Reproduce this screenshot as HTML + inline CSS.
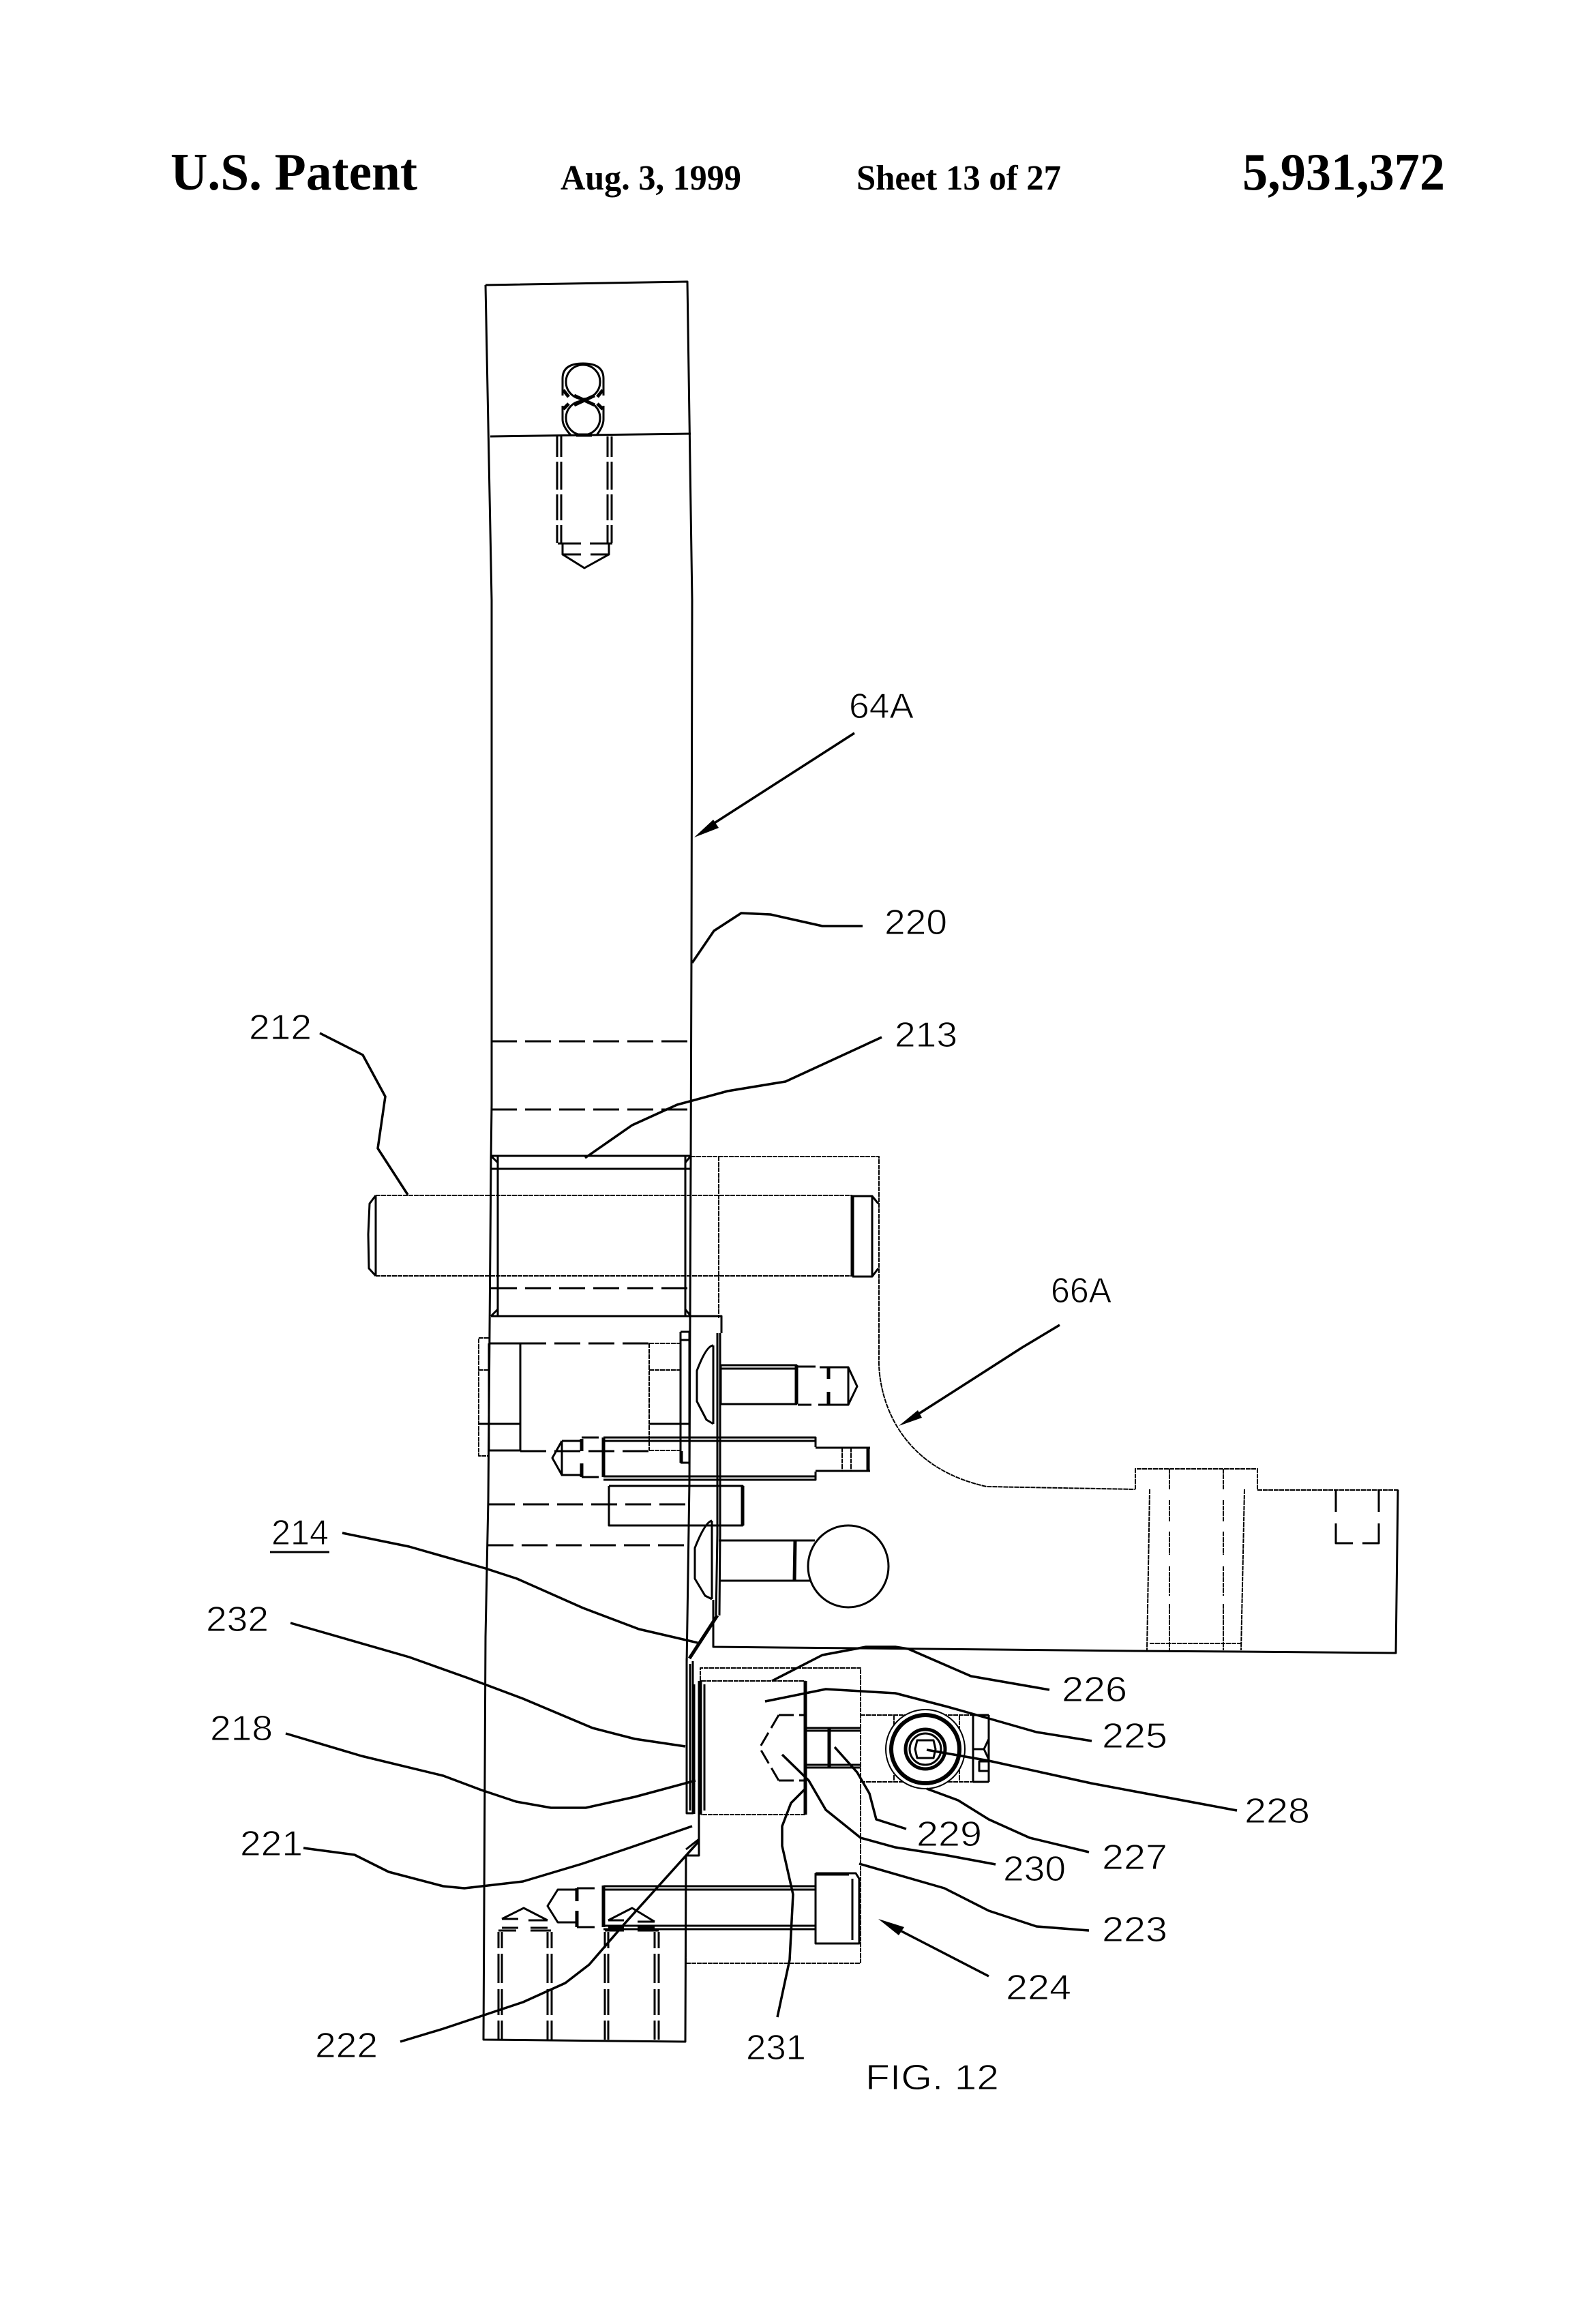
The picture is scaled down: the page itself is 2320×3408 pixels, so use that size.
<!DOCTYPE html>
<html>
<head>
<meta charset="utf-8">
<style>
html,body{margin:0;padding:0;background:#fff}
svg{display:block}
.m,.t,.k,.d,.dt,.l{fill:none;stroke:#000;stroke-linejoin:round;stroke-linecap:butt}
.m{stroke-width:3}
.t{stroke-width:2;stroke-dasharray:7 1}
.k{stroke-width:5}
.d{stroke-width:3;stroke-dasharray:38 12}
.dt{stroke-width:2;stroke-dasharray:34 10}
.l{stroke-width:3.5}
.h{font-family:"Liberation Serif",serif;fill:#000}
.n{font-family:"Liberation Sans",sans-serif;font-size:52px;fill:#000;stroke:#fff;stroke-width:1}
</style>
</head>
<body>
<svg xmlns="http://www.w3.org/2000/svg" width="2320" height="3408" viewBox="0 0 2320 3408">
<rect width="2320" height="3408" fill="#fff"/>

<!-- Header -->
<text class="h" x="250" y="278" font-size="77" font-weight="bold" textLength="362" lengthAdjust="spacingAndGlyphs">U.S. Patent</text>
<text class="h" x="822" y="278" font-size="52" font-weight="bold" textLength="265" lengthAdjust="spacingAndGlyphs">Aug. 3, 1999</text>
<text class="h" x="1256" y="278" font-size="52" font-weight="bold" textLength="300" lengthAdjust="spacingAndGlyphs">Sheet 13 of 27</text>
<text class="h" x="1822" y="278" font-size="77" font-weight="bold" textLength="297" lengthAdjust="spacingAndGlyphs">5,931,372</text>

<!-- Main plate 64A -->
<polyline class="m" points="712,418 1008,413 1015,880 1014,1400 1013,1700 1011,2174 1008,2375 1007,2440"/>
<polyline class="m" points="712,418 721,880 721,1620 720,1700 718,1950 716,2200 712,2400 709,2991 1005,2994 1006,2721"/>
<line class="m" x1="719" y1="640" x2="1013" y2="636"/>

<!-- Top screw -->
<g>
<path class="m" d="M825 580V555Q825 533 855 533T885 555V580M825 595V615Q825 625 837 638M885 595V615Q885 625 875 638"/>
<circle class="m" cx="855" cy="560" r="25"/>
<circle class="m" cx="855" cy="613" r="25"/>
<path class="k" d="M842 580L872 594M872 580L842 594M826 572L834 582M884 572L876 582M826 600L834 592M884 600L876 592"/>
<path class="k" d="M845 638H868"/>
<path class="m" d="M817 640V670M823 640V670M817 677V718M823 677V718M817 725V763M823 725V763M817 770V796M823 770V796M891 640V670M897 640V670M891 677V718M897 677V718M891 725V763M897 725V763M891 770V796M897 770V796"/>
<path class="m" d="M818 797H852M865 797H898M825 797V813H852M866 813H893V797"/>
<polyline class="m" points="825,813 857,833 893,813"/>
</g>

<!-- Dashed horizontal lines in plate -->
<line class="d" x1="720" y1="1527" x2="1013" y2="1527"/>
<line class="d" x1="720" y1="1627" x2="1013" y2="1627"/>
<line class="d" x1="720" y1="1889" x2="1010" y2="1889"/>
<line class="d" x1="717" y1="2206" x2="1010" y2="2206"/>
<line class="d" x1="715" y1="2266" x2="1010" y2="2266"/>

<!-- Collar and pin -->
<path class="m" d="M720 1695H1013M720 1714H1013M730 1695V1930M1005 1695V1930M720 1930H1058V1955"/>
<path class="m" d="M720 1695L730 1705M1013 1695L1005 1705M720 1930L730 1920M1013 1930L1005 1920"/>
<path class="t" d="M551 1753H1250M551 1871H1250"/>
<path class="m" d="M551 1753V1871M551 1753L542 1765L540 1810L541 1860L551 1871"/>
<path class="k" d="M1250 1754V1872"/>
<path class="m" d="M1250 1754H1279L1288 1765M1250 1872H1279L1288 1860M1279 1754V1872"/>

<!-- Bracket 66A -->
<path class="t" d="M1013 1696H1289V1990C1287 2040 1310 2150 1447 2180L1665 2184M1054 1696V1933"/>
<path class="t" d="M1665 2184V2154H1844V2185H2050L2047 2424L1817 2422"/>
<path class="m" d="M2050 2185L2047 2424L1817 2422L1665 2421L1046 2415V2346"/>
<path class="t" d="M1686 2184L1682 2420M1825 2184L1820 2420M1715 2154V2184M1794 2154V2184"/>
<path class="t" d="M1715 2200V2231M1715 2246V2280M1715 2297V2340M1715 2352V2420M1794 2200V2231M1794 2246V2280M1794 2297V2340M1794 2352V2420M1686 2410H1820"/>
<path class="m" d="M1959 2185V2217M1959 2234V2263H1984M1998 2263H2022V2234M2022 2217V2185"/>

<!-- Left nut and inner plate -->
<path class="t" d="M717 1962H702V2135H717M702 2009H717"/>
<path class="m" d="M717 1970V2127M763 1970V2127M717 1970H763M717 2127H763M702 2088H763"/>
<line class="d" x1="763" y1="1970" x2="952" y2="1970"/>
<line class="d" x1="763" y1="2128" x2="952" y2="2128"/>
<path class="t" d="M952 1970V2127M952 1970H998M952 2009H998M952 2127H998"/>
<path class="m" d="M952 2088H1011"/>
<path class="m" d="M998 1953V2145M1011 1953V2148M998 1953H1011M998 1965H1011M998 2145H1011"/>

<!-- Vertical double lines -->
<path class="m" d="M1052 1955V2250L1050 2369M1056 1955V2250L1055 2369"/>
<path class="k" d="M1052 2369L1011 2432"/>
<path class="m" d="M1007 2432V2659H1016V2436M1012 2440V2655"/>
<path class="m" d="M1025 2465V2721H1006M1006 2712L1025 2697"/>

<!-- Bolt A -->
<path class="m" d="M1046 1973V2088M1046 1973Q1036 1973 1022 2010V2055L1036 2082L1046 2088"/>
<path class="m" d="M1057 2002H1168V2059H1057V2002M1057 2007H1168"/>
<path class="k" d="M1168 2002V2059M1215 2005V2022M1215 2041V2060"/>
<path class="m" d="M1170 2004H1196M1202 2005H1244V2060H1200M1170 2060H1190M1244 2005L1257 2033L1244 2060"/>

<!-- Bolt B -->
<path class="m" d="M824 2113L810 2138L824 2163V2113M824 2113H853M824 2163H853M853 2108H878M853 2166H878"/>
<path class="k" d="M853 2110V2128M853 2146V2166M885 2108V2166"/>
<path class="m" d="M885 2108H1196V2122M885 2113H1196M885 2165H1196M885 2170H1196V2158M1196 2123H1276M1196 2157H1276"/>
<path class="t" d="M1235 2123V2157M1248 2123V2157"/>
<path class="k" d="M1273 2123V2157"/>
<path class="m" d="M1000 2128V2145H1011"/>

<!-- Rect under bolt B -->
<path class="m" d="M893 2179H1089V2237H893V2179"/>
<line class="k" x1="1089" y1="2179" x2="1089" y2="2237"/>

<!-- Bolt C and ball -->
<path class="m" d="M1044 2230V2345M1044 2230Q1034 2232 1019 2270V2315L1034 2340L1044 2345"/>
<path class="m" d="M1054 2259H1166V2318H1054M1166 2259H1195M1166 2318H1190"/>
<line class="k" x1="1166" y1="2259" x2="1165" y2="2318"/>
<ellipse class="m" cx="1244" cy="2297" rx="59" ry="60"/>

<!-- Lower bracket -->
<path class="t" d="M1027 2465V2446H1262V2879H1006V2721"/>
<path class="m" d="M1018 2470V2660"/>
<path class="t" d="M1028 2465H1181M1181 2661H1028"/>
<path class="m" d="M1028 2465V2661M1033 2470V2655"/>
<line class="k" x1="1181" y1="2465" x2="1181" y2="2661"/>
<path class="m" d="M1142 2515L1114 2563L1142 2611M1142 2515H1181M1142 2611H1181" stroke-dasharray="22 8"/>
<path class="m" d="M1183 2534H1262M1183 2538H1262M1183 2588H1262M1183 2592H1262"/>
<line class="k" x1="1216" y1="2534" x2="1216" y2="2592"/>

<!-- Round assembly -->
<path class="t" d="M1262 2515H1450M1262 2613H1450M1311 2515V2613M1407 2515V2613"/>
<circle cx="1357" cy="2565" r="58" fill="#fff" stroke="#000" stroke-width="2"/>
<circle class="k" cx="1357" cy="2565" r="50" style="stroke-width:6"/>
<circle class="k" cx="1357" cy="2565" r="29"/>
<circle class="m" cx="1357" cy="2565" r="23"/>
<polygon class="m" points="1345,2552 1369,2552 1372,2565 1369,2578 1345,2578 1342,2565"/>
<path class="m" d="M1427 2515V2613M1450 2515V2613M1427 2515H1450M1427 2613H1450M1427 2565H1443L1450 2550M1443 2565L1450 2580"/>
<rect class="m" x="1436" y="2583" width="14" height="14"/>

<!-- Bolt 223 -->
<path class="m" d="M1196 2747H1255L1260 2755V2850H1196V2747M1250 2755V2845"/>
<line class="k" x1="1196" y1="2748" x2="1245" y2="2748"/>
<path class="m" d="M885 2766H1196M885 2771H1196M885 2824H1196M885 2829H1196"/>
<path class="k" d="M885 2765V2826M846 2769V2788M846 2802V2826"/>
<path class="m" d="M846 2769H872M846 2826H872M846 2771H818L803 2795L818 2819H846"/>

<!-- Dashed screws at bottom -->
<g>
<path class="m" d="M736 2814L768 2798L803 2816M736 2814H760M775 2816H803M731 2831H757M778 2831H808M736 2827H760M778 2827H803"/>
<path class="m" d="M731 2833V2857M731 2865V2908M731 2917V2955M731 2963V2991M736 2833V2857M736 2865V2908M736 2917V2955M736 2963V2991M803 2833V2857M803 2865V2908M803 2917V2955M803 2963V2991M809 2833V2857M809 2865V2908M809 2917V2955M809 2963V2991"/>
<path class="m" d="M892 2816L927 2798L960 2818M892 2816H915M935 2818H960M887 2831H915M935 2831H966M892 2827H915M935 2827H960"/>
<path class="m" d="M887 2833V2857M887 2865V2908M887 2917V2955M887 2963V2991M892 2833V2857M892 2865V2908M892 2917V2955M892 2963V2991M960 2833V2857M960 2865V2908M960 2917V2955M960 2963V2991M966 2833V2857M966 2865V2908M966 2917V2955M966 2963V2991"/>
</g>

<!-- Leaders -->
<polyline class="l" points="1253,1075 1046,1208"/>
<polygon points="1018,1228 1046,1202 1054,1214"/>
<polyline class="l" points="1265,1358 1206,1358 1130,1341 1087,1339 1047,1365 1015,1412"/>
<polyline class="l" points="469,1515 532,1547 565,1608 554,1684 598,1752"/>
<polyline class="l" points="1293,1521 1152,1586 1067,1600 993,1620 927,1650 858,1698"/>
<polyline class="l" points="1554,1943 1499,1976 1418,2028 1346,2074"/>
<polygon points="1318,2091 1346,2068 1352,2079"/>
<polyline class="l" points="502,2248 600,2268 712,2300 758,2315 855,2358 937,2389 1023,2409"/>
<line x1="396" y1="2276" x2="483" y2="2276" stroke="#000" stroke-width="3"/>
<polyline class="l" points="426,2380 600,2430 687,2461 767,2491 869,2534 931,2550 1005,2561"/>
<polyline class="l" points="419,2542 530,2575 650,2604 706,2625 757,2642 808,2651 859,2651 931,2635 1020,2611"/>
<polyline class="l" points="445,2710 520,2720 570,2745 650,2766 681,2769 767,2759 854,2733 925,2709 1015,2678"/>
<polyline class="l" points="587,2994 650,2975 767,2936 829,2908 864,2881 915,2822 961,2771 1025,2700"/>
<polyline class="l" points="1140,2958 1158,2874 1163,2778 1147,2707 1147,2678 1160,2644 1181,2623"/>
<polyline class="l" points="1147,2573 1186,2611 1211,2654 1262,2695 1313,2709 1390,2721 1460,2734"/>
<polyline class="l" points="1224,2562 1257,2599 1275,2630 1285,2668 1329,2682"/>
<polyline class="l" points="1132,2465 1206,2427 1270,2415 1313,2415 1332,2418 1424,2458 1539,2478"/>
<polyline class="l" points="1122,2495 1211,2477 1313,2483 1390,2503 1450,2520 1520,2540 1601,2553"/>
<polyline class="l" points="1359,2566 1450,2582 1600,2615 1814,2655"/>
<polyline class="l" points="1359,2623 1405,2640 1450,2668 1510,2695 1597,2716"/>
<polyline class="l" points="1260,2733 1385,2769 1450,2802 1520,2825 1597,2831"/>
<polyline class="l" points="1450,2898 1322,2832"/>
<polygon points="1288,2814 1326,2826 1318,2838"/>

<!-- Labels -->
<text class="n" x="1245" y="1053" textLength="95" lengthAdjust="spacingAndGlyphs">64A</text>
<text class="n" x="1297" y="1370" textLength="92" lengthAdjust="spacingAndGlyphs">220</text>
<text class="n" x="365" y="1524" textLength="92" lengthAdjust="spacingAndGlyphs">212</text>
<text class="n" x="1312" y="1535" textLength="92" lengthAdjust="spacingAndGlyphs">213</text>
<text class="n" x="1541" y="1910" textLength="89" lengthAdjust="spacingAndGlyphs">66A</text>
<text class="n" x="398" y="2265" textLength="84" lengthAdjust="spacingAndGlyphs">214</text>
<text class="n" x="302" y="2392" textLength="92" lengthAdjust="spacingAndGlyphs">232</text>
<text class="n" x="1557" y="2495" textLength="96" lengthAdjust="spacingAndGlyphs">226</text>
<text class="n" x="1616" y="2563" textLength="96" lengthAdjust="spacingAndGlyphs">225</text>
<text class="n" x="308" y="2552" textLength="92" lengthAdjust="spacingAndGlyphs">218</text>
<text class="n" x="1825" y="2673" textLength="96" lengthAdjust="spacingAndGlyphs">228</text>
<text class="n" x="352" y="2721" textLength="92" lengthAdjust="spacingAndGlyphs">221</text>
<text class="n" x="1344" y="2707" textLength="96" lengthAdjust="spacingAndGlyphs">229</text>
<text class="n" x="1616" y="2741" textLength="96" lengthAdjust="spacingAndGlyphs">227</text>
<text class="n" x="1471" y="2758" textLength="92" lengthAdjust="spacingAndGlyphs">230</text>
<text class="n" x="1616" y="2847" textLength="96" lengthAdjust="spacingAndGlyphs">223</text>
<text class="n" x="1475" y="2932" textLength="96" lengthAdjust="spacingAndGlyphs">224</text>
<text class="n" x="462" y="3017" textLength="92" lengthAdjust="spacingAndGlyphs">222</text>
<text class="n" x="1094" y="3020" textLength="88" lengthAdjust="spacingAndGlyphs">231</text>
<text class="n" x="1269" y="3064" textLength="196" lengthAdjust="spacingAndGlyphs">FIG. 12</text>
</svg>
</body>
</html>
